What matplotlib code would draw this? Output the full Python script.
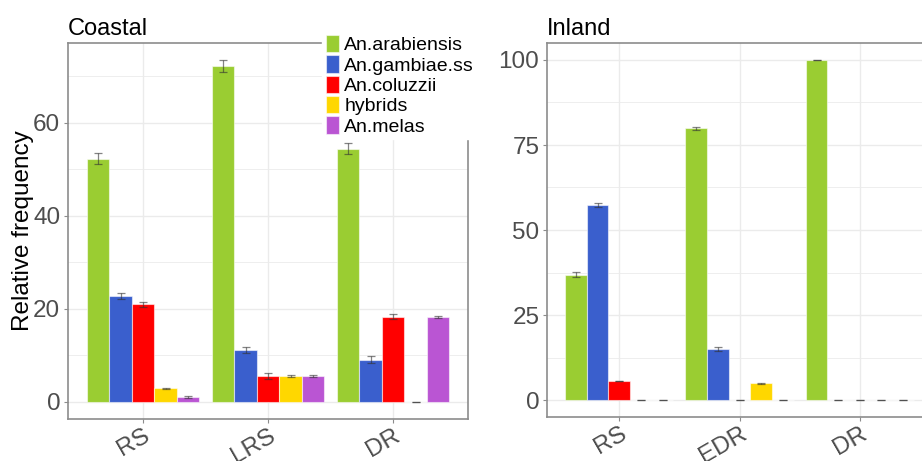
import numpy as np
import matplotlib
matplotlib.use("Agg")
import matplotlib.pyplot as plt
from matplotlib.patches import Patch

plt.rcParams['font.family'] = ['Liberation Sans', 'DejaVu Sans']

# ── Data ──────────────────────────────────────────────────────────────────
species = ['An.arabiensis', 'An.gambiae.ss', 'An.coluzzii', 'hybrids', 'An.melas']
colors  = ['#9ACD32', '#3A5FCD', '#FF0000', '#FFD700', '#BA55D3']

coastal_sites = ['RS', 'LRS', 'DR']
coastal_freq = [[52.3, 22.8, 21.0, 2.9, 1.1],
                [72.2, 11.1, 5.6, 5.6, 5.6],
                [54.5, 9.1, 18.3, 0.0, 18.3]]
coastal_err = [[1.2, 0.7, 0.5, 0.15, 0.2],
               [1.3, 0.7, 0.6, 0.2, 0.2],
               [1.2, 0.7, 0.5, 0.0, 0.2]]

inland_sites = ['RS', 'EDR', 'DR']
inland_freq = [[36.9, 57.3, 5.6, 0.0, 0.0],
               [79.9, 15.0, 0.0, 4.9, 0.0],
               [100.0, 0.0, 0.0, 0.0, 0.0]]
inland_err = [[0.7, 0.5, 0.1, 0.0, 0.0],
              [0.5, 0.7, 0.0, 0.1, 0.0],
              [0.0, 0.0, 0.0, 0.0, 0.0]]

# ── Style ─────────────────────────────────────────────────────────────────
TICK_C   = '#4D4D4D'
BORDER_C = '#8C8C8C'
GRID_C   = '#EBEBEB'
BAR_W    = 0.18


def draw_panel(ax, sites, freq, err, ylim, major, minor, title):
    freq = np.array(freq)
    err = np.array(err)
    x = np.arange(1, len(sites) + 1)
    offsets = (np.arange(len(species)) - 2) * BAR_W
    for j, sp in enumerate(species):
        ax.bar(x + offsets[j], freq[:, j], width=BAR_W, color=colors[j],
               edgecolor=(1, 1, 1, 0.55), linewidth=0.8, zorder=3)
        ax.errorbar(x + offsets[j], freq[:, j], yerr=err[:, j], fmt='none',
                    ecolor='#333333', alpha=0.6, elinewidth=0.9,
                    capsize=2.8, capthick=0.9, zorder=4)
    ax.set_xlim(0.4, 3.6)
    ax.set_ylim(*ylim)
    ax.set_xticks(x)
    ax.set_xticklabels(sites, rotation=30, ha='right', va='top',
                       rotation_mode='anchor')
    ax.set_yticks(major)
    ax.set_yticks(minor, minor=True)
    ax.grid(which='major', color=GRID_C, linewidth=1.0, zorder=0)
    ax.grid(which='minor', axis='y', color=GRID_C, linewidth=0.6, zorder=0)
    ax.set_axisbelow(True)
    ax.tick_params(axis='both', which='major', labelsize=17.5,
                   labelcolor=TICK_C, color=BORDER_C, length=3, width=0.8,
                   pad=2.5)
    ax.tick_params(axis='y', which='minor', length=0)
    ax.tick_params(axis='x', pad=1)
    for s in ax.spines.values():
        s.set_color(BORDER_C)
        s.set_linewidth(1.2)
    ax.set_title(title, loc='left', fontsize=17, pad=6)


fig = plt.figure(figsize=(9.22, 4.61), dpi=100)
fig.patch.set_facecolor('white')

ax1 = fig.add_axes([68 / 922, 1 - 419 / 461, 400 / 922, 376 / 461])
ax2 = fig.add_axes([547 / 922, 1 - 417 / 461, 385 / 922, 374 / 461])

draw_panel(ax1, coastal_sites, coastal_freq, coastal_err,
           (-3.7, 77.2), [0, 20, 40, 60], [10, 30, 50, 70], 'Coastal')
draw_panel(ax2, inland_sites, inland_freq, inland_err,
           (-5, 105), [0, 25, 50, 75, 100], [12.5, 37.5, 62.5, 87.5], 'Inland')

fig.text(23 / 922, 1 - 231 / 461, 'Relative frequency', rotation=90,
         ha='center', va='center', fontsize=17.5)

# legend sits over the top-right corner of the Coastal panel
handles = [Patch(facecolor=c, edgecolor=(1, 1, 1, 0.55), linewidth=0.8)
           for c in colors]
leg = fig.legend(handles, species, loc='upper left',
                 bbox_to_anchor=(322 / 922, 1 - 31 / 461),
                 fontsize=14, frameon=True, fancybox=False,
                 handlelength=0.65, handleheight=1.0, handletextpad=0.3,
                 labelspacing=0.05, borderpad=0.2, borderaxespad=0)
leg.get_frame().set_facecolor('white')
leg.get_frame().set_edgecolor('white')
leg.get_frame().set_alpha(1)

plt.savefig('out.png', dpi=100, facecolor=fig.get_facecolor())
